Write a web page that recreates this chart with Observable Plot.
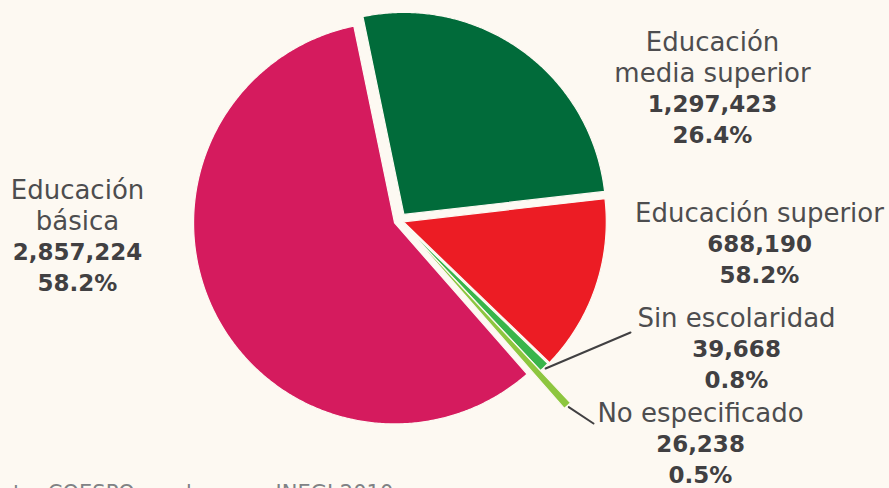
<!DOCTYPE html>
<html>
<head>
<meta charset="utf-8">
<script src="https://cdn.jsdelivr.net/npm/d3@7"></script>
<script src="https://cdn.jsdelivr.net/npm/@observablehq/plot@0.6"></script>
<style>
  html, body { margin: 0; padding: 0; background: #fdf9f2; overflow: hidden; }
  #chart svg { display: block; }
</style>
</head>
<body>
<div id="chart"></div>
<script>
// ---- Data ----
const categories = ["Educación media superior", "Educación superior", "Sin escolaridad", "No especificado", "Educación básica"];
const values = [1297423, 688190, 39668, 26238, 2857224];
const shares = ["26.4%", "58.2%", "0.8%", "0.5%", "58.2%"];
const nameLines = [["Educación", "media superior"], ["Educación superior"], ["Sin escolaridad"], ["No especificado"], ["Educación", "básica"]];
const caption = "Fuente: COESPO con base en INEGI 2010";

// ---- Styles / layout ----
const palette = ["#016b3a", "#ec1c24", "#39b54a", "#8dc63f", "#d51b5e"];
const bg = "#fdf9f2";
const ink = "#414042";
const W = 889, H = 488;
const cx = 399, cy = 220;
const explode = [7.5, 4, 3, 3, 5.5];
const radius = [202, 203, 203, 247, 201];
const startDeg = -11.7;
// label blocks: center x, first-line center y
const labelPos = [[712, 42], [759, 213], [736, 318], [700, 413], [77, 190]];
const lineGap = 31;
const font = "DejaVu Sans";

const numFmt = d3.format(",");
const pie = d3.pie().sort(null).value(d => d).startAngle(startDeg * Math.PI / 180).endAngle(startDeg * Math.PI / 180 + 2 * Math.PI);
const arcs = pie(values);

// slice polygons
const slicePts = [];
arcs.forEach((a, i) => {
  const mid = (a.startAngle + a.endAngle) / 2;
  const ox = cx + explode[i] * Math.sin(mid);
  const oy = cy - explode[i] * Math.cos(mid);
  const r = radius[i];
  slicePts.push({name: categories[i], x: ox, y: oy});
  const n = Math.max(2, Math.ceil((a.endAngle - a.startAngle) / (Math.PI / 360)));
  for (let k = 0; k <= n; k++) {
    const t = a.startAngle + (a.endAngle - a.startAngle) * k / n;
    slicePts.push({name: categories[i], x: ox + r * Math.sin(t), y: oy - r * Math.cos(t)});
  }
});

// leader lines for the two small slices
const leaderEnds = {2: [630, 332], 3: [593, 423]};
const leaders = [];
Object.entries(leaderEnds).forEach(([k, end]) => {
  const i = +k, a = arcs[i];
  const mid = (a.startAngle + a.endAngle) / 2;
  const r = radius[i] + explode[i] + 2;
  leaders.push({id: i, x: cx + r * Math.sin(mid), y: cy - r * Math.cos(mid)});
  leaders.push({id: i, x: end[0], y: end[1]});
});

// label rows
const regularRows = [], boldRows = [];
categories.forEach((c, i) => {
  const [lx, ly] = labelPos[i];
  let row = 0;
  nameLines[i].forEach(t => { regularRows.push({text: t, x: lx, y: ly + lineGap * row}); row++; });
  boldRows.push({text: numFmt(values[i]), x: lx, y: ly + lineGap * row}); row++;
  boldRows.push({text: shares[i], x: lx, y: ly + lineGap * row});
});

const chart = Plot.plot({
  width: W, height: H,
  margin: 0,
  style: {background: bg, overflow: "visible"},
  x: {domain: [0, W], range: [0, W], axis: null},
  y: {domain: [0, H], range: [0, H], axis: null},
  color: {domain: categories, range: palette},
  marks: [
    Plot.line(slicePts, {x: "x", y: "y", z: "name", fill: "name", stroke: bg, strokeWidth: 1.2, curve: "linear-closed"}),
    Plot.line(leaders, {x: "x", y: "y", z: "id", stroke: ink, strokeWidth: 2}),
    Plot.text(regularRows, {x: "x", y: "y", text: "text", fill: "#4d4d4f", fontSize: 26, fontFamily: font, fontWeight: 400, textAnchor: "middle"}),
    Plot.text(boldRows, {x: "x", y: "y", text: "text", fill: ink, fontSize: 23, fontFamily: font, fontWeight: 700, textAnchor: "middle"}),
    Plot.text([caption], {x: () => -38, y: () => 493, text: d => d, fill: "#808285", fontSize: 21, fontFamily: font, textAnchor: "start"})
  ]
});
document.getElementById("chart").appendChild(chart);
</script>
</body>
</html>
